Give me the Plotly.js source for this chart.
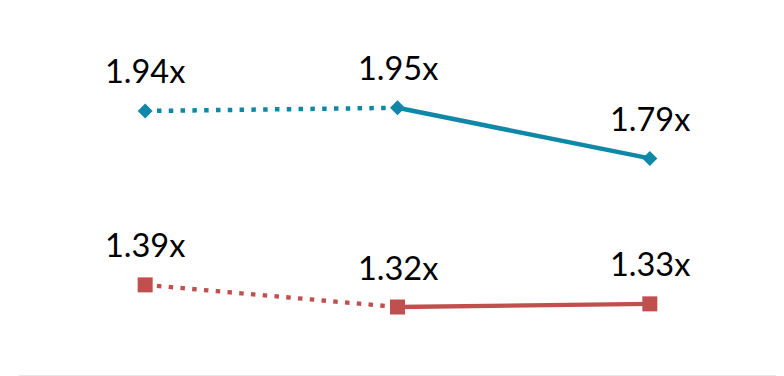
<!DOCTYPE html>
<html>
<head>
<meta charset="utf-8">
<script src="https://cdn.plot.ly/plotly-3.0.1.min.js"></script>
<style>html,body{margin:0;padding:0;background:#fff;}#chart{width:784px;height:376px;}</style>
</head>
<body>
<div id="chart"></div>
<script>
const categories = ["P1", "P2", "P3"];
const blueValues = [1.94, 1.95, 1.79];
const redValues = [1.39, 1.32, 1.33];
const blueColor = "#0f87a6";
const redColor = "#c0504d";

function seriesTraces(vals, color, symbol, msize, lw) {
  return [
    {x: categories.slice(0, 2), y: vals.slice(0, 2), mode: "lines", type: "scatter",
     line: {color: color, width: lw, dash: "4.5px,7.3px"}, hoverinfo: "skip"},
    {x: categories.slice(1), y: vals.slice(1), mode: "lines", type: "scatter",
     line: {color: color, width: lw}, hoverinfo: "skip"},
    {x: categories, y: vals, mode: "markers", type: "scatter",
     marker: {color: color, symbol: symbol, size: msize, line: {width: 0}}}
  ];
}

const data = [
  ...seriesTraces(blueValues, blueColor, "diamond", 11.5, 4.5),
  ...seriesTraces(redValues, redColor, "square", 15, 4.3)
];

const annotations = [];
[blueValues, redValues].forEach(vals => {
  vals.forEach((v, i) => {
    annotations.push({x: categories[i], y: v, text: v.toFixed(2) + "x", showarrow: false,
      xanchor: "center", yanchor: "middle", yshift: 40,
      font: {family: "Lato, sans-serif", size: 32.5, color: "#000"}});
  });
});

const layout = {
  width: 784, height: 376,
  margin: {l: 19, r: 8, t: 0, b: 1},
  paper_bgcolor: "#fff", plot_bgcolor: "#fff",
  showlegend: false,
  xaxis: {type: "category", range: [-0.5, 2.5], showgrid: false, zeroline: false,
          showticklabels: false, ticks: "", showline: true, linecolor: "#e6e6e6", linewidth: 1},
  yaxis: {range: [1.105, 2.291], showgrid: false, zeroline: false, showticklabels: false,
          ticks: "", showline: false},
  annotations: annotations
};

Plotly.newPlot("chart", data, layout, {staticPlot: true});
</script>
</body>
</html>
